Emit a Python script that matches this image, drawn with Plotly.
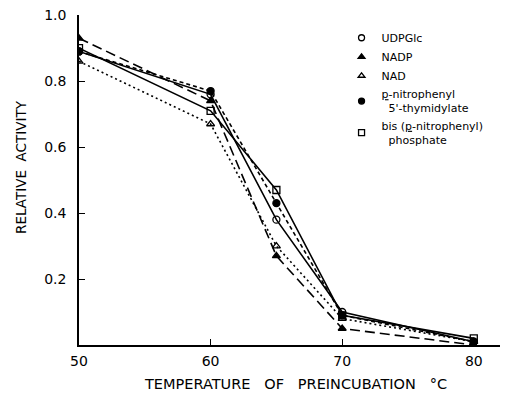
import plotly.graph_objects as go

temps = [50, 60, 65, 70, 80]
udpglc = [0.89, 0.76, 0.38, 0.10, 0.01]
nadp = [0.93, 0.74, 0.27, 0.05, 0.00]
nad = [0.86, 0.67, 0.30, 0.08, 0.01]
pnp_thy = [0.89, 0.77, 0.43, 0.09, 0.01]
bis_pnp = [0.90, 0.71, 0.47, 0.09, 0.02]

names = ["UDPGlc", "NADP", "NAD", "<u>p</u>-nitrophenyl<br>  5'-thymidylate",
         "bis (<u>p</u>-nitrophenyl)<br>  phosphate"]
series = [udpglc, nadp, nad, pnp_thy, bis_pnp]
symbols = ["circle-open", "triangle-up", "triangle-up-open", "circle", "square-open"]
dashes = ["solid", "10px,5px", "2px,3px", "4px,3px", "solid"]

fig = go.Figure()
for nm, ys, sym, d in zip(names, series, symbols, dashes):
    fig.add_trace(go.Scatter(
        x=temps, y=ys, mode="lines+markers", showlegend=False,
        line=dict(color="black", width=1.6, dash=d),
        marker=dict(symbol=sym, size=7, color="black", line=dict(color="black", width=1.3)),
    ))
for nm, sym in zip(names, symbols):
    fig.add_trace(go.Scatter(
        x=[None], y=[None], mode="markers", name=nm,
        marker=dict(symbol=sym, size=6, color="black", line=dict(color="black", width=1.3)),
    ))

font = "DejaVu Sans, Liberation Sans, sans-serif"
# page body has an 8px margin, so the figure is sized 8px smaller
fig.update_layout(
    width=500, height=394,
    margin=dict(l=71, r=0, t=7, b=57),
    paper_bgcolor="white", plot_bgcolor="white",
    font=dict(family=font, color="black"),
    legend=dict(x=0.612, y=0.975, xanchor="left", yanchor="top",
                font=dict(size=11, family=font), itemwidth=30,
                tracegroupgap=2, bgcolor="rgba(0,0,0,0)"),
    xaxis=dict(range=[50, 82.6], tickvals=[50, 60, 70, 80], ticks="inside",
               ticklen=6, tickcolor="black", tickwidth=1.3, showline=True, linecolor="black",
               linewidth=1.6, showgrid=False, zeroline=False, automargin=False,
               tickfont=dict(size=14), ticklabelstandoff=2),
    yaxis=dict(range=[0, 1.0005], tickvals=[0.2, 0.4, 0.6, 0.8, 1.0],
               ticktext=["0.2", "0.4", "0.6", "0.8", "1.0"], ticks="inside",
               ticklen=6, tickcolor="black", tickwidth=1.3, showline=True, linecolor="black",
               linewidth=1.6, showgrid=False, zeroline=False, automargin=False,
               tickfont=dict(size=14), ticklabelstandoff=8, ticklabeloverflow="allow"),
    annotations=[
        dict(text="TEMPERATURE   OF   PREINCUBATION   °C", xref="paper", yref="paper",
             x=0.505, y=-0.088, xanchor="center", yanchor="top", showarrow=False,
             font=dict(size=14.5, family=font)),
        dict(text="RELATIVE  ACTIVITY", xref="paper", yref="paper",
             x=-0.135, y=0.54, xanchor="center", yanchor="middle", showarrow=False,
             textangle=-90, font=dict(size=13.5, family=font)),
    ],
)
fig.write_html("out.html")
